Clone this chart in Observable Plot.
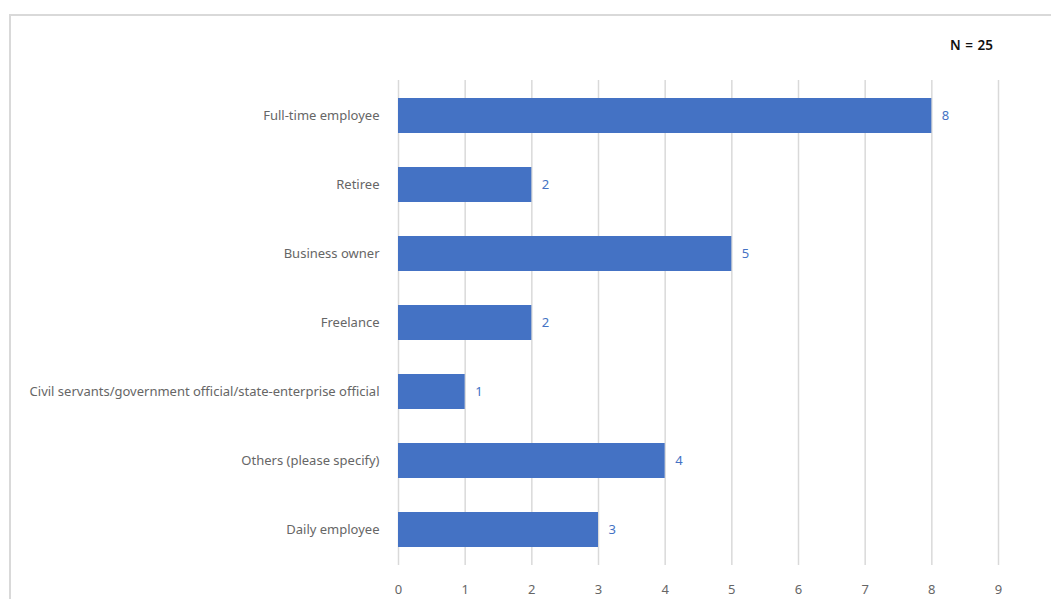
<!DOCTYPE html>
<html>
<head>
<meta charset="utf-8">
<script src="https://cdn.jsdelivr.net/npm/d3@7"></script>
<script src="https://cdn.jsdelivr.net/npm/@observablehq/plot@0.6"></script>
<style>
  html, body { margin: 0; padding: 0; background: #fff; }
  #wrap { position: relative; width: 1051px; height: 599px; overflow: hidden; }
  #frame { position: absolute; left: 9px; top: 14px; width: 1100px; height: 700px;
           border-top: 2px solid #d9d9d9; border-left: 2px solid #d9d9d9; box-sizing: border-box; }
  #n { position: absolute; left: 950px; top: 36px; font: 600 13.5px "Noto Sans", sans-serif; color: #111; word-spacing: 1px; }
  #chart { position: absolute; left: 0; top: 0; }
</style>
</head>
<body>
<div id="wrap">
  <div id="frame"></div>
  <div id="chart"></div>
  <div id="n">N = 25</div>
</div>
<script>
const categories = [
  "Full-time employee",
  "Retiree",
  "Business owner",
  "Freelance",
  "Civil servants/government official/state-enterprise official",
  "Others (please specify)",
  "Daily employee"
];
const counts = [8, 2, 5, 2, 1, 4, 3];
const xTicks = [0, 1, 2, 3, 4, 5, 6, 7, 8, 9];

const data = categories.map((c, i) => ({category: c, count: counts[i]}));

const chart = Plot.plot({
  width: 1051,
  height: 599,
  marginLeft: 398,
  marginRight: 53,
  marginTop: 80,
  marginBottom: 34,
  style: {fontFamily: "'Noto Sans', sans-serif", fontSize: "13px", color: "#666666", background: "transparent"},
  x: {domain: [0, 9], ticks: xTicks, tickSize: 0, tickPadding: 19, label: null},
  y: {domain: categories, paddingInner: 0.5, paddingOuter: 0.25, tickSize: 0, tickPadding: 19, label: null},
  marks: [
    Plot.gridX(xTicks, {stroke: "#d9d9d9", strokeOpacity: 1, strokeWidth: 1.5}),
    Plot.barX(data, {x: "count", y: "category", fill: "#4472C4"}),
    Plot.text(data, {x: "count", y: "category", text: d => String(d.count), textAnchor: "start", dx: 10, fill: "#4472C4", fontSize: 13})
  ]
});
document.getElementById("chart").appendChild(chart);
</script>
</body>
</html>
